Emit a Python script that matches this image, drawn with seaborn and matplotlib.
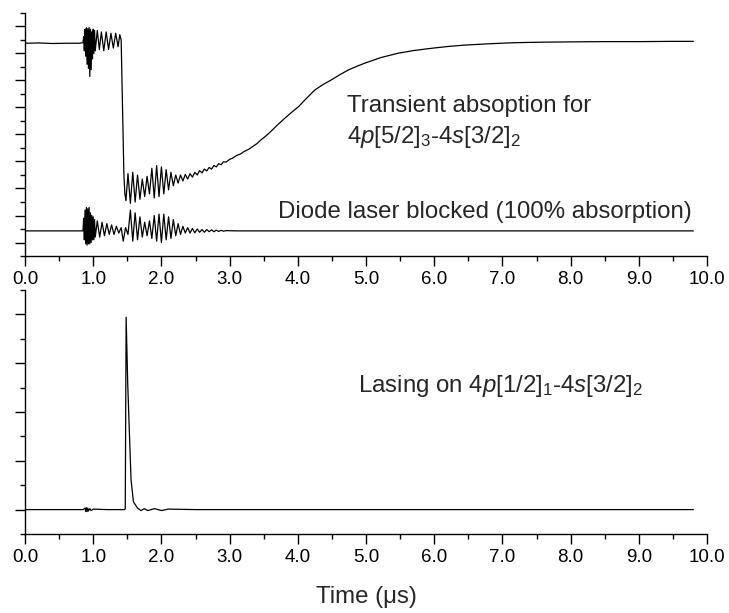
import numpy as np
import pandas as pd
import matplotlib
matplotlib.use("Agg")
import matplotlib.pyplot as plt
from matplotlib.ticker import MultipleLocator, FormatStrFormatter
import seaborn as sns

# ---------------- data ----------------
# Upper panel: transient absorption trace
top_t = [0.00, 0.20, 0.40, 0.60, 0.80, 0.85,
         0.86, 0.87, 0.88, 0.89, 0.90, 0.91, 0.92, 0.93, 0.94, 0.95, 0.96, 0.97, 0.98, 0.99,
         1.00, 1.01, 1.02, 1.03,
         1.06, 1.09, 1.12, 1.155, 1.19, 1.225, 1.26, 1.295, 1.33, 1.365, 1.39, 1.41,
         1.43, 1.45, 1.465,
         1.48, 1.51, 1.545, 1.58, 1.615, 1.65, 1.685, 1.72, 1.755, 1.79, 1.825, 1.86, 1.895,
         1.93, 1.965, 2.00, 2.035, 2.07, 2.105, 2.14, 2.175, 2.21, 2.245, 2.28, 2.315, 2.35,
         2.385, 2.42, 2.455, 2.49, 2.525, 2.56, 2.595, 2.63, 2.665, 2.70, 2.735, 2.77, 2.805,
         2.84, 2.875, 2.91, 2.95, 3.00, 3.04, 3.10, 3.16, 3.22, 3.28, 3.34, 3.40, 3.46, 3.52,
         3.60, 3.70, 3.80, 3.90, 4.01, 4.12, 4.25, 4.37, 4.49, 4.62, 4.74, 4.86, 4.98, 5.22,
         5.47, 5.70, 5.95, 6.20, 6.44, 6.80, 7.17, 7.60, 8.00, 8.50, 9.00, 9.50, 9.80]
top_v = [7.38, 7.39, 7.37, 7.38, 7.38, 7.40,
         7.62, 7.10, 7.90, 6.90, 7.95, 6.60, 7.92, 6.45, 7.96, 6.15, 7.90, 6.40, 7.80, 6.80,
         7.90, 7.00, 7.85, 7.10,
         7.85, 7.15, 7.80, 7.10, 7.80, 7.15, 7.75, 7.20, 7.75, 7.25, 7.70, 7.50,
         5.00, 2.50, 1.80,
         1.55, 2.55, 1.45, 2.60, 1.50, 2.50, 1.60, 2.35, 1.70, 2.45, 1.80, 2.75, 1.65,
         2.85, 1.70, 2.80, 1.80, 2.70, 1.95, 2.60, 2.10, 2.50, 2.20, 2.50, 2.28, 2.52,
         2.35, 2.55, 2.42, 2.60, 2.50, 2.66, 2.58, 2.72, 2.65, 2.78, 2.72, 2.85, 2.80,
         2.92, 2.88, 2.99, 2.98, 3.08, 3.12, 3.22, 3.28, 3.38, 3.45, 3.56, 3.66, 3.80, 3.92,
         4.10, 4.35, 4.58, 4.80, 5.03, 5.32, 5.65, 5.85, 6.02, 6.22, 6.39, 6.52, 6.64, 6.85,
         7.01, 7.11, 7.19, 7.26, 7.31, 7.36, 7.40, 7.42, 7.43, 7.44, 7.44, 7.45, 7.45]

# Upper panel: diode laser blocked trace
diode_t = [0.00, 0.40, 0.85, 0.86, 0.87, 0.88, 0.89, 0.90, 0.91, 0.92, 0.93, 0.94, 0.95,
           0.96, 0.97, 0.98, 0.99, 1.00, 1.01, 1.02, 1.03, 1.06, 1.095, 1.13, 1.165, 1.20,
           1.235, 1.27, 1.305, 1.34, 1.375, 1.41, 1.44, 1.475, 1.51, 1.545, 1.58, 1.615,
           1.65, 1.685, 1.72, 1.755, 1.79, 1.825, 1.86, 1.895, 1.93, 1.965, 2.00, 2.035,
           2.07, 2.105, 2.14, 2.175, 2.21, 2.245, 2.28, 2.315, 2.35, 2.385, 2.42, 2.455,
           2.49, 2.525, 2.56, 2.595, 2.63, 2.665, 2.70, 2.735, 2.77, 2.805, 2.84, 2.875,
           2.91, 2.95, 3.10, 5.00, 7.00, 9.80]
diode_v = [0.43, 0.43, 0.43, 0.90, 0.10, 1.20, -0.05, 1.30, -0.10, 1.25, -0.05, 1.30, -0.05,
           1.10, 0.00, 1.00, 0.10, 0.95, 0.10, 0.85, 0.20, 0.80, 0.20, 0.75, 0.25, 0.70,
           0.30, 0.65, 0.30, 0.60, 0.35, 0.55, 0.05, 0.55, 0.30, 1.20, 0.05, 1.10,
           0.10, 0.95, 0.20, 0.75, 0.25, 0.80, 0.15, 1.00, 0.05, 1.05, 0.00, 1.05,
           0.10, 0.95, 0.15, 0.85, 0.25, 0.70, 0.30, 0.60, 0.35, 0.55, 0.35, 0.52,
           0.36, 0.50, 0.38, 0.48, 0.38, 0.48, 0.40, 0.47, 0.40, 0.46, 0.41, 0.45,
           0.42, 0.44, 0.43, 0.43, 0.43, 0.43]

# Lower panel: lasing pulse
lase_t = [0.00, 0.85, 0.88, 0.89, 0.90, 0.91, 0.92, 0.93, 0.95, 0.97, 1.00, 1.20, 1.46,
          1.47, 1.483, 1.506, 1.53, 1.555, 1.59, 1.65, 1.70, 1.75, 1.80, 1.90, 2.00, 2.10,
          2.50, 5.00, 9.80]
lase_v = [0.00, 0.00, 0.03, -0.04, 0.04, -0.04, 0.03, -0.03, 0.02, -0.02, 0.01, 0.00, 0.00,
          0.02, 3.94, 2.59, 1.60, 0.61, 0.16, 0.03, -0.02, 0.02, -0.02, 0.02, -0.02, 0.01,
          0.00, 0.00, 0.00]

x_ticks = [0.0, 1.0, 2.0, 3.0, 4.0, 5.0, 6.0, 7.0, 8.0, 9.0, 10.0]

label_top1 = "Transient absoption for"
label_top2 = r"4$\it{p}$[5/2]$_3$-4$\it{s}$[3/2]$_2$"
label_diode = "Diode laser blocked (100% absorption)"
label_lase = r"Lasing on 4$\it{p}$[1/2]$_1$-4$\it{s}$[3/2]$_2$"
x_label = "Time (μs)"

# ---------------- style ----------------
sns.set_style("ticks")
plt.rcParams["font.family"] = ["Liberation Sans", "DejaVu Sans"]
plt.rcParams["mathtext.fontset"] = "custom"
plt.rcParams["mathtext.rm"] = "Liberation Sans"
plt.rcParams["mathtext.it"] = "Liberation Sans:italic"
plt.rcParams["mathtext.bf"] = "Liberation Sans:bold"

W, H = 729, 613
fig = plt.figure(figsize=(W / 100, H / 100), dpi=100)

def ax_rect(left, top, right, bottom):
    return [left / W, 1 - bottom / H, (right - left) / W, (bottom - top) / H]

ax1 = fig.add_axes(ax_rect(25, 13, 707, 256))
ax2 = fig.add_axes(ax_rect(25, 290, 707, 534))

df_top = pd.DataFrame({"t": top_t, "v": top_v})
df_diode = pd.DataFrame({"t": diode_t, "v": diode_v})
df_lase = pd.DataFrame({"t": lase_t, "v": lase_v})

lw = 0.9
sns.lineplot(data=df_top, x="t", y="v", ax=ax1, color="black", lw=lw,
             estimator=None, sort=False)
sns.lineplot(data=df_diode, x="t", y="v", ax=ax1, color="black", lw=lw,
             estimator=None, sort=False)
sns.lineplot(data=df_lase, x="t", y="v", ax=ax2, color="black", lw=lw,
             estimator=None, sort=False)

for ax, ylim in ((ax1, (-0.5, 8.5)), (ax2, (-0.5, 4.5))):
    ax.set_xlim(0, 10)
    ax.set_ylim(*ylim)
    ax.set_xticks(x_ticks)
    ax.xaxis.set_major_formatter(FormatStrFormatter("%.1f"))
    ax.xaxis.set_minor_locator(MultipleLocator(0.5))
    ax.yaxis.set_major_locator(MultipleLocator(1.0))
    ax.yaxis.set_minor_locator(MultipleLocator(0.5))
    ax.set_yticklabels([])
    ax.tick_params(axis="both", which="major", length=7.5, width=1.0,
                   direction="out", labelsize=13.5, pad=3, color="black",
                   labelcolor="black")
    ax.tick_params(axis="both", which="minor", length=3.8, width=1.0,
                   direction="out", color="black")
    sns.despine(ax=ax, top=True, right=True)
    for s in ("left", "bottom"):
        ax.spines[s].set_linewidth(1.0)
        ax.spines[s].set_color("black")
    ax.set_ylabel("")
    ax.set_xlabel("")
    ax.set_facecolor("white")

fs = 17.3
ax1.text(4.72, 5.06, label_top1, fontsize=fs, ha="left", va="center")
ax1.text(4.72, 3.90, label_top2, fontsize=fs, ha="left", va="center")
ax1.text(3.71, 1.13, label_diode, fontsize=fs, ha="left", va="center")
ax2.text(4.88, 2.53, label_lase, fontsize=fs, ha="left", va="center")
ax2.set_xlabel(x_label, fontsize=fs, labelpad=15)

fig.savefig("out.png", dpi=100, facecolor="white")
